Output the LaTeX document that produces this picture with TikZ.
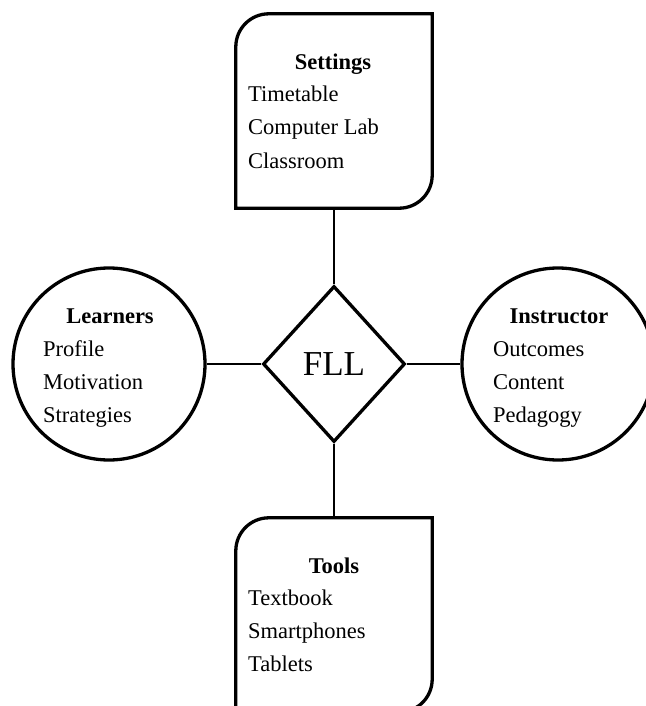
\documentclass[tikz,border=0pt]{standalone}
\usepackage{fontspec}
\setmainfont{Liberation Serif}
\usetikzlibrary{shapes.geometric}
\begin{document}
\begin{tikzpicture}[x=1bp,y=-1bp,
  frame/.style={line width=3.3bp},
  link/.style={line width=1.2bp},
  item/.style={anchor=base west,inner sep=0pt,font=\fontsize{22.5bp}{27bp}\selectfont},
  head/.style={anchor=base,inner sep=0pt,font=\fontsize{22.5bp}{27bp}\selectfont\bfseries},
  holder/.style={rectangle,minimum width=196bp,minimum height=194bp,inner sep=0pt},
  ball/.style={circle,draw,frame,minimum size=192bp,inner sep=0pt}]
\clip (0,0) rectangle (646,706);
\fill[white] (0,0) rectangle (646,706);
% boxes
\node[holder] (settings) at (334,111) {};
\draw[frame] (settings.south west) -- ([yshift=-33bp]settings.north west)
  arc[start angle=180,end angle=90,radius=33bp] -- (settings.north east)
  -- ([yshift=33bp]settings.south east)
  arc[start angle=0,end angle=-90,radius=33bp] -- cycle;
\node[holder] (tools) at (334,615) {};
\draw[frame] (tools.south west) -- ([yshift=-33bp]tools.north west)
  arc[start angle=180,end angle=90,radius=33bp] -- (tools.north east)
  -- ([yshift=33bp]tools.south east)
  arc[start angle=0,end angle=-90,radius=33bp] -- cycle;
% circles
\node[ball] (learners) at (109,364) {};
\node[ball] (instructor) at (558,364) {};
% diamond
\node[diamond,draw,frame,minimum width=142bp,minimum height=156bp,inner sep=0pt,
  font=\fontsize{35bp}{40bp}\selectfont] (fll) at (334,364) {FLL};
% connectors
\draw[link] (settings.south) -- (fll.north);
\draw[link] (fll.south) -- (tools.north);
\draw[link] (learners.east) -- (fll.west);
\draw[link] (fll.east) -- (instructor.west);
% texts
\node[head] (sh) at (333,70) {Settings};
\node[item] (s1) at (248,102) {Timetable};
\node[item] (s2) at (248,135) {Computer Lab};
\node[item] (s3) at (248,168) {Classroom};
\node[head] (lh) at (110,323) {Learners};
\node[item] (l1) at (43,356) {Profile};
\node[item] (l2) at (43,389) {Motivation};
\node[item] (l3) at (43,422) {Strategies};
\node[head] (ih) at (559,323) {Instructor};
\node[item] (i1) at (493,356) {Outcomes};
\node[item] (i2) at (493,389) {Content};
\node[item] (i3) at (493,422) {Pedagogy};
\node[head] (th) at (334,573) {Tools};
\node[item] (t1) at (248,605) {Textbook};
\node[item] (t2) at (248,638) {Smartphones};
\node[item] (t3) at (248,671) {Tablets};
\end{tikzpicture}
\end{document}
